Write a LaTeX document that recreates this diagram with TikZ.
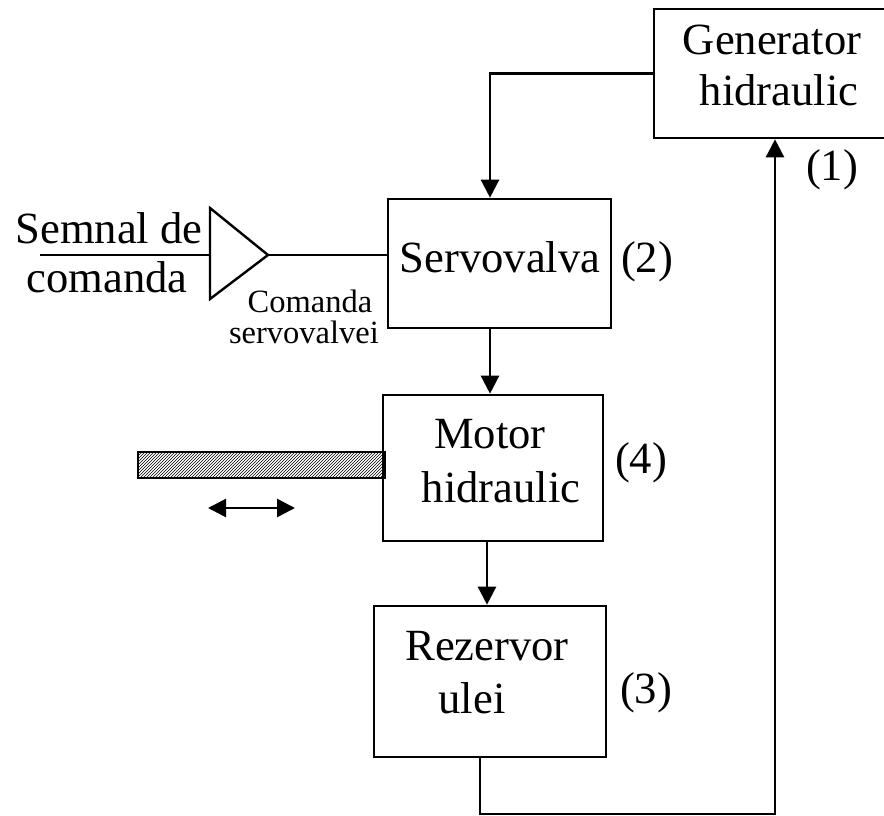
\documentclass[tikz,border=0pt]{standalone}
\usepackage{fontspec}
\setmainfont{Liberation Serif}
\usetikzlibrary{arrows.meta,patterns}
\begin{document}
\begin{tikzpicture}[x=1pt,y=-1pt,
  blok/.style={draw,line width=2.6pt,inner sep=0pt},
  txt/.style={inner sep=0pt,anchor=base,font=\fontsize{44.6}{51}\selectfont},
  small/.style={inner sep=0pt,anchor=base,font=\fontsize{32.5}{36}\selectfont},
  wire/.style={line width=2.4pt},
  arr/.style={wire,-{Triangle[width=18pt,length=18pt]}},
  darr/.style={wire,{Triangle[width=18pt,length=18pt]}-{Triangle[width=18pt,length=18pt]}}]
  \useasboundingbox (0,0) rectangle (884,816);
  \clip (0,0) rectangle (884,816);

  % blocks (the generator runs off the right margin)
  \node[blok,minimum width=242pt,minimum height=129pt] (gen) at (775,73.5) {};
  \node[blok,minimum width=223pt,minimum height=129pt] (sv)  at (499.5,263.5) {};
  \node[blok,minimum width=220pt,minimum height=146pt] (mot) at (493,468) {};
  \node[blok,minimum width=232pt,minimum height=151pt] (rez) at (490,681.5) {};

  % block texts
  \node[txt] (gen1) at (772,55)  {Generator};
  \node[txt] (gen2) at (779,106) {hidraulic};
  \node[txt] (svt)  at (500,272) {Servovalva};
  \node[txt] (mot1) at (490,448) {Motor};
  \node[txt] (mot2) at (501,502) {hidraulic};
  \node[txt] (rez1) at (487,660) {Rezervor};
  \node[txt] (rez2) at (472,713) {ulei};

  % block numbers
  \node[txt] (n1) at (832,180) {(1)};
  \node[txt] (n2) at (647,272) {(2)};
  \node[txt] (n4) at (641,473) {(4)};
  \node[txt] (n3) at (646,703) {(3)};

  % input signal and amplifier
  \node[txt] (sem1) at (109,243) {Semnal de};
  \node[txt] (sem2) at (107,292) {comanda};
  \node[small] (cmd1) at (310,312) {Comanda};
  \node[small] (cmd2) at (304,343) {servovalvei};
  \coordinate (sig) at (40,255);
  \coordinate (ampin) at (210,255);
  \coordinate (ampout) at (268,255);
  \draw[wire,line join=miter] (210,208) -- (ampout) -- (210,299) -- cycle;
  \draw[wire] (sig) -- (ampin);
  \draw[wire] (ampout) -- (ampout -| sv.west);

  % hydraulic circuit
  \draw[arr] (gen.west) -| ([xshift=-9.5pt]sv.north);
  \draw[arr] ([xshift=-9.5pt]sv.south) -- ([xshift=-9.5pt]sv.south |- mot.north);
  \draw[arr] ([xshift=-6pt]mot.south) -- ([xshift=-6pt]mot.south |- rez.north);
  \coordinate (ret) at (480,814);
  \draw[arr] ([xshift=-10pt]rez.south) -- (ret) -| (gen.south);

  % piston rod and its motion
  \draw[line width=2pt,pattern=north east lines] (138,452) rectangle (385,478);
  \coordinate (mvl) at (208,508);
  \coordinate (mvr) at (295,508);
  \draw[darr] (mvl) -- (mvr);
\end{tikzpicture}
\end{document}
